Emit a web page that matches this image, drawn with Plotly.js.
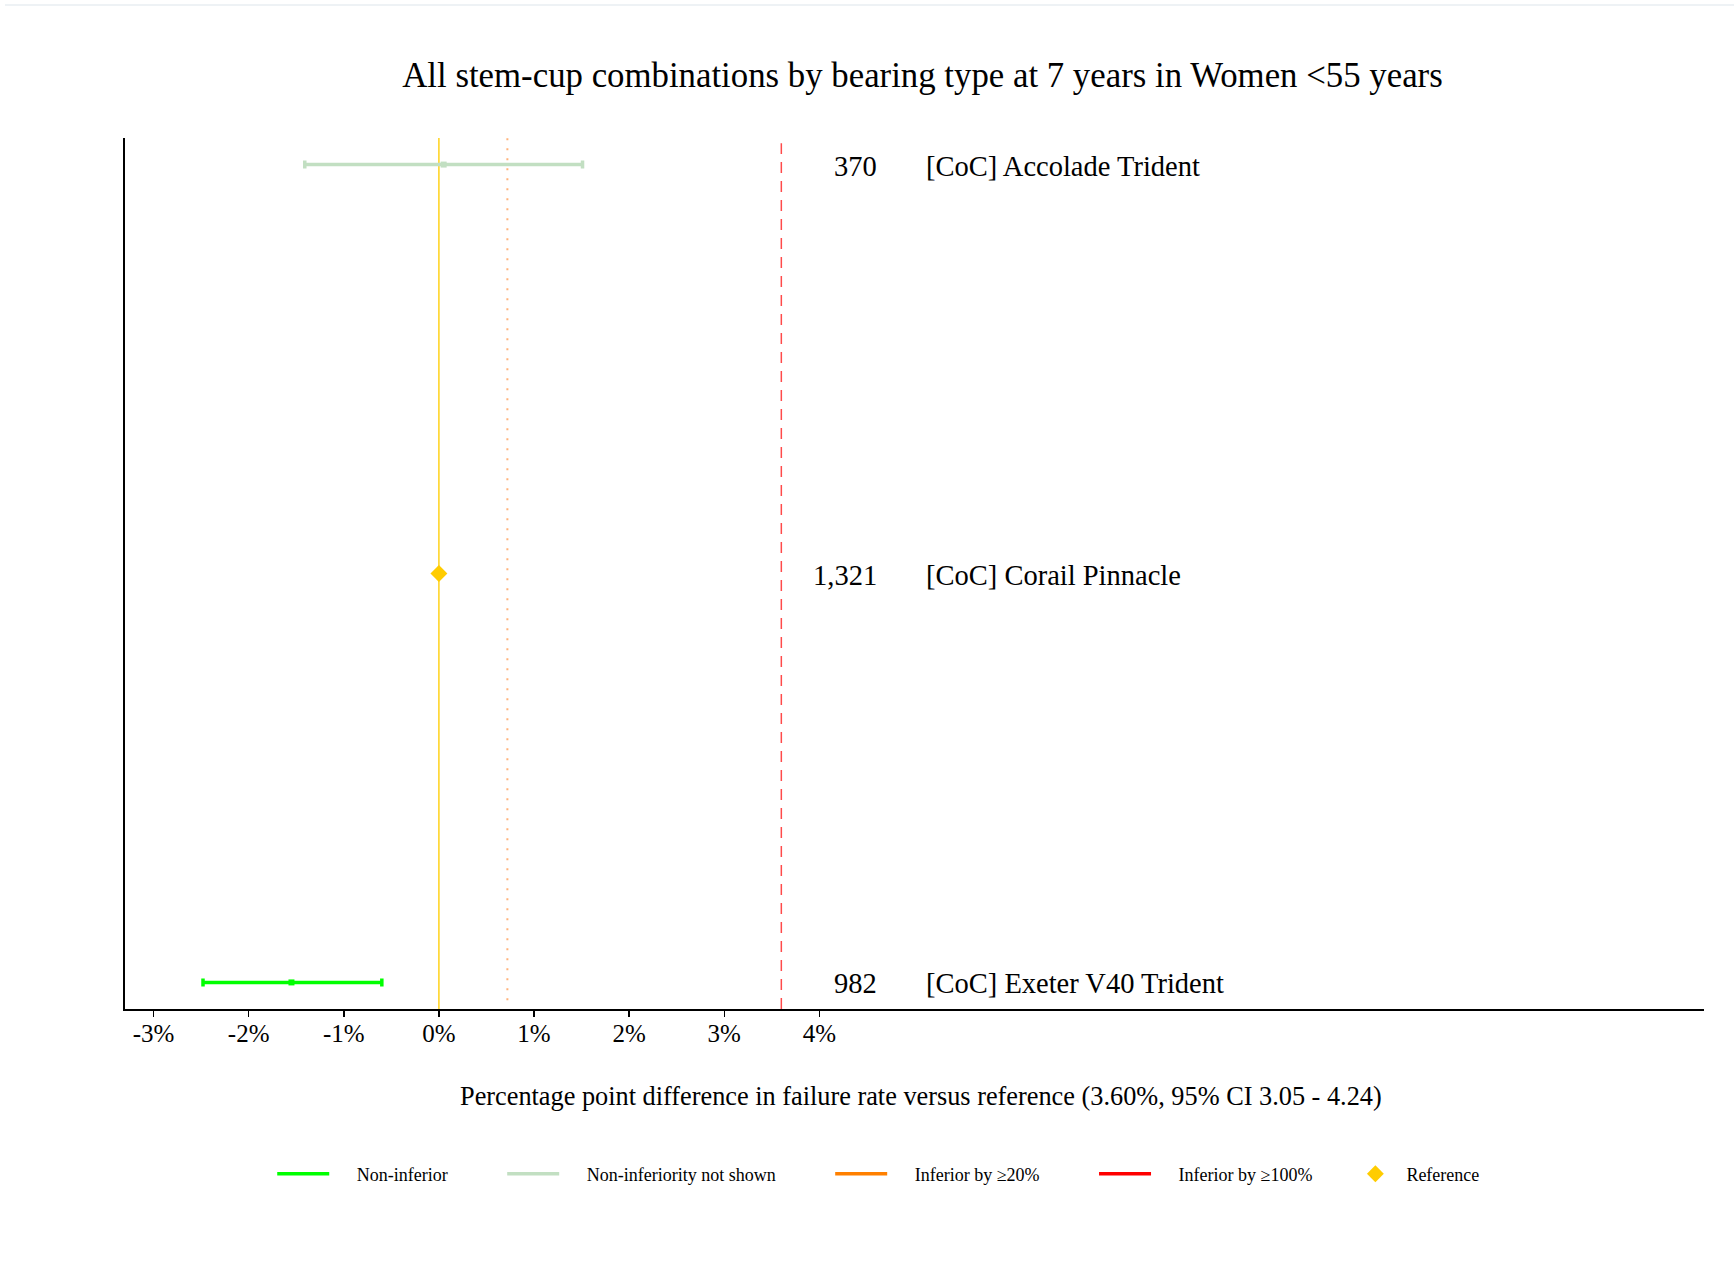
<!DOCTYPE html>
<html>
<head>
<meta charset="utf-8">
<script src="https://cdn.plot.ly/plotly-3.0.1.min.js"></script>
<style>
  html, body { margin: 0; padding: 0; background: #fff; }
  #topline { position: absolute; left: 5px; right: 0; top: 4px; height: 2px; background: #eef2f5; }
  #chart { width: 1734px; height: 1269px; }
</style>
</head>
<body>
<div id="topline"></div>
<div id="chart"></div>
<script>
// ---- data ----
const categories = ["[CoC] Exeter V40 Trident", "[CoC] Corail Pinnacle", "[CoC] Accolade Trident"];
const counts = ["982", "1,321", "370"];
const groups = ["Non-inferior", "Reference", "Non-inferiority not shown"];
const estimates = [-1.55, 0.0, 0.05];
const lowerCI = [-2.48, 0.0, -1.41];
const upperCI = [-0.60, 0.0, 1.51];
const referenceRate = 3.60;      // reference failure rate (%)
const inferiorityMargin = 0.72;  // 20% of reference rate
const tickValues = [-3, -2, -1, 0, 1, 2, 3, 4];
const tickLabels = ["-3%", "-2%", "-1%", "0%", "1%", "2%", "3%", "4%"];
const countColumnX = 4.60;
const nameColumnX = 5.12;
const legendNames = ["Non-inferior", "Non-inferiority not shown", "Inferior by \u226520%", "Inferior by \u2265100%", "Reference"];
const xTitle = "Percentage point difference in failure rate versus reference (3.60%, 95% CI 3.05 - 4.24)";
const chartTitle = "All stem-cup combinations by bearing type at 7 years in Women <55 years";

const colors = {
  "Non-inferior": "#00ff00",
  "Non-inferiority not shown": "#c2dfc2",
  "Inferior by \u226520%": "#ff8000",
  "Inferior by \u2265100%": "#ff0000",
  "Reference": "#ffcc00"
};

const FONT = "'Liberation Serif', 'Times New Roman', serif";
const NB = "\u00a0";

const traces = [];

// data traces (error bars)
categories.forEach((cat, i) => {
  const g = groups[i];
  if (g === "Reference") {
    traces.push({
      type: "scatter", mode: "markers",
      x: [estimates[i]], y: [i],
      marker: { symbol: "diamond", size: 13, color: colors[g] },
      showlegend: false, hoverinfo: "skip", cliponaxis: false
    });
  } else {
    traces.push({
      type: "scatter", mode: "markers",
      x: [estimates[i]], y: [i],
      marker: { symbol: "square", size: 6, color: colors[g] },
      error_x: {
        type: "data", symmetric: false,
        array: [upperCI[i] - estimates[i]],
        arrayminus: [estimates[i] - lowerCI[i]],
        color: colors[g], thickness: 3.5, width: 4
      },
      showlegend: false, hoverinfo: "skip"
    });
  }
});

// legend-only traces
legendNames.forEach((name, k) => {
  let label;
  if (name === "Reference") label = name;
  else if (k === legendNames.length - 2) label = NB.repeat(5) + name + NB.repeat(6);
  else label = NB.repeat(5) + name + NB.repeat(11);
  if (name === "Reference") {
    traces.push({
      type: "scatter", mode: "markers", name: label,
      x: [null], y: [null],
      marker: { symbol: "diamond", size: 13, color: colors[name] }
    });
  } else {
    traces.push({
      type: "scatter", mode: "lines", name: label,
      x: [null], y: [null],
      line: { color: colors[name], width: 3.5 }
    });
  }
});

// text columns (counts and names) as data-anchored annotations
const annotations = [];
categories.forEach((cat, i) => {
  annotations.push({
    x: countColumnX, y: i, xref: "x", yref: "y",
    text: counts[i], showarrow: false, xanchor: "right", yanchor: "middle",
    xshift: 3, yshift: -1.5, font: { family: FONT, size: 28.5, color: "#000" }
  });
  annotations.push({
    x: nameColumnX, y: i, xref: "x", yref: "y",
    text: cat, showarrow: false, xanchor: "left", yanchor: "middle",
    xshift: -2, yshift: -1.5, font: { family: FONT, size: 28.5, color: "#000" }
  });
});
// x-axis title
annotations.push({
  x: 0.504, y: -0.1, xref: "paper", yref: "paper",
  text: xTitle, showarrow: false, xanchor: "center", yanchor: "middle",
  font: { family: FONT, size: 26.3, color: "#000" }
});

const layout = {
  width: 1734, height: 1269,
  paper_bgcolor: "rgba(0,0,0,0)", plot_bgcolor: "rgba(0,0,0,0)",
  margin: { l: 125, r: 30, t: 138, b: 260 },
  font: { family: FONT, color: "#000" },
  title: {
    text: chartTitle,
    font: { family: FONT, size: 34.8, color: "#000" },
    x: 0.532, xref: "container", xanchor: "center",
    y: 0.941, yref: "container", yanchor: "middle"
  },
  xaxis: {
    range: [-3.3, 13.3],
    tickvals: tickValues, ticktext: tickLabels,
    tickfont: { family: FONT, size: 25, color: "#000" },
    ticks: "outside", ticklen: 6, tickwidth: 1.5, tickcolor: "#000",
    ticklabelstandoff: -5,
    showline: true, linecolor: "#000", linewidth: 2,
    showgrid: false, zeroline: false,
    automargin: false, fixedrange: true
  },
  yaxis: {
    range: [-0.065, 2.065],
    showticklabels: false, ticks: "",
    showline: true, linecolor: "#000", linewidth: 2,
    showgrid: false, zeroline: false, automargin: false, fixedrange: true
  },
  annotations: annotations,
  shapes: [
    { type: "line", xref: "x", yref: "paper", x0: 0, x1: 0, y0: 0, y1: 1,
      line: { color: "#ffd21a", width: 1.5 }, layer: "below" },
    { type: "line", xref: "x", yref: "paper", x0: inferiorityMargin, x1: inferiorityMargin, y0: 0.01, y1: 1,
      line: { color: "#ffb27a", width: 2, dash: "2px,8px" }, layer: "below" },
    { type: "line", xref: "x", yref: "paper", x0: referenceRate, x1: referenceRate, y0: 0, y1: 0.994,
      line: { color: "#ff4a4a", width: 1.5, dash: "11px,8px" }, layer: "below" }
  ],
  showlegend: true,
  legend: {
    orientation: "h",
    xref: "container", yref: "container",
    x: 0.157, xanchor: "left",
    y: 1 - 1174 / 1269, yanchor: "middle",
    font: { family: FONT, size: 18, color: "#000" },
    itemwidth: 52,
    traceorder: "normal",
    bgcolor: "rgba(0,0,0,0)"
  }
};

Plotly.newPlot("chart", traces, layout, { displayModeBar: false, staticPlot: true });
</script>
</body>
</html>
